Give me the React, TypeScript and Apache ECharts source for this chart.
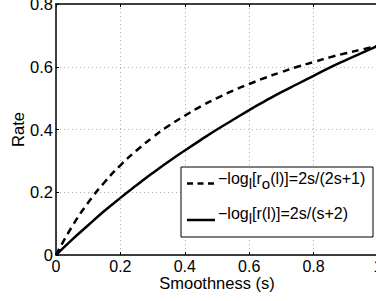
import React, { useEffect, useRef } from "react";
import * as echarts from "echarts";

const sValues = [0, 0.05, 0.1, 0.15, 0.2, 0.25, 0.3, 0.35, 0.4, 0.45, 0.5, 0.55, 0.6, 0.65, 0.7, 0.75, 0.8, 0.85, 0.9, 0.95, 1];
const rateOracle = [0, 0.091, 0.167, 0.231, 0.286, 0.333, 0.375, 0.412, 0.444, 0.474, 0.5, 0.524, 0.545, 0.565, 0.583, 0.6, 0.615, 0.63, 0.643, 0.655, 0.667];
const rateActual = [0, 0.049, 0.095, 0.14, 0.182, 0.222, 0.261, 0.298, 0.333, 0.367, 0.4, 0.431, 0.462, 0.491, 0.519, 0.545, 0.571, 0.597, 0.621, 0.644, 0.667];

const FONT = "Liberation Sans";

export default function App() {
  const ref = useRef<HTMLDivElement>(null);
  useEffect(() => {
    if (!ref.current) return;
    const chart = echarts.init(ref.current, undefined, { renderer: "svg" });
    const fmt = (v: number) => String(parseFloat(v.toFixed(1)));
    const split = { show: true, lineStyle: { color: "#b0b0b0", type: [1, 3] as any, width: 1 } };
    const rich = {
      n: { fontFamily: FONT, fontSize: 16, color: "#000", lineHeight: 18 },
      s: { fontFamily: FONT, fontSize: 15, color: "#000", padding: [9, 0, 0, 0], lineHeight: 18 },
    };
    chart.setOption({
      animation: false,
      backgroundColor: "#fff",
      grid: { left: 56, top: 4, width: 322, height: 251, containLabel: false, outerBoundsMode: "none" },
      xAxis: [
        {
          type: "value", min: 0, max: 1, interval: 0.2,
          name: "Smoothness (s)", nameLocation: "middle", nameGap: 20, nameMoveOverlap: false,
          nameTextStyle: { fontFamily: FONT, fontSize: 16.5, color: "#000", lineHeight: 16 },
          axisLine: { show: true, lineStyle: { color: "#000", width: 1.5 } },
          axisTick: { show: true, inside: true, length: 3, lineStyle: { color: "#000" } },
          axisLabel: { formatter: fmt, fontFamily: FONT, fontSize: 16, color: "#000", margin: 3, lineHeight: 16 },
          splitLine: split,
        },
        {
          type: "value", min: 0, max: 1, interval: 0.2, position: "top",
          axisLine: { show: true, onZero: false, lineStyle: { color: "#000", width: 1.5 } },
          axisTick: { show: true, inside: true, length: 3, lineStyle: { color: "#000" } },
          axisLabel: { show: false }, splitLine: { show: false },
        },
      ],
      yAxis: [
        {
          type: "value", min: 0, max: 0.8, interval: 0.2,
          name: "Rate", nameLocation: "middle", nameGap: 30, nameMoveOverlap: false,
          nameTextStyle: { fontFamily: FONT, fontSize: 16.5, color: "#000" },
          axisLine: { show: true, lineStyle: { color: "#000", width: 1.5 } },
          axisTick: { show: true, inside: true, length: 3, lineStyle: { color: "#000" } },
          axisLabel: { formatter: fmt, fontFamily: FONT, fontSize: 16.5, color: "#000", margin: 3 },
          splitLine: split,
        },
        {
          type: "value", min: 0, max: 0.8, interval: 0.2, position: "right",
          axisLine: { show: true, onZero: false, lineStyle: { color: "#000", width: 1.5 } },
          axisTick: { show: false }, axisLabel: { show: false }, splitLine: { show: false },
        },
      ],
      series: [
        {
          type: "line", name: "oracle", showSymbol: false, symbol: "none", smooth: true,
          data: sValues.map((s, i) => [s, rateOracle[i]]),
          lineStyle: { color: "#000", width: 2.5, type: [7, 5] as any },
        },
        {
          type: "line", name: "actual", showSymbol: false, symbol: "none", smooth: true,
          data: sValues.map((s, i) => [s, rateActual[i]]),
          lineStyle: { color: "#000", width: 2.5 },
        },
      ],
      graphic: [
        { type: "rect", shape: { x: 181, y: 167, width: 192, height: 70 }, style: { fill: "#fff", stroke: "#000", lineWidth: 1 }, z: 100 },
        { type: "line", shape: { x1: 187, y1: 183.5, x2: 216, y2: 183.5 }, style: { stroke: "#000", lineWidth: 2.5, lineDash: [6, 4.5] }, z: 101 },
        { type: "line", shape: { x1: 187, y1: 220, x2: 215, y2: 220 }, style: { stroke: "#000", lineWidth: 2.5 }, z: 101 },
        {
          type: "text", x: 218, y: 178.5, z: 101,
          style: { text: "{n|\u2212log}{s|l}{n|[r}{s|o}{n|(l)]=2s/(2s+1)}", rich, verticalAlign: "middle" },
        },
        {
          type: "text", x: 218, y: 213.5, z: 101,
          style: { text: "{n|\u2212log}{s|l}{n|[r(l)]=2s/(s+2)}", rich, verticalAlign: "middle" },
        },
      ],
    });
    return () => chart.dispose();
  }, []);
  return <div ref={ref} style={{ width: 376, height: 301, position: "absolute", left: 0, top: 0 }} />;
}
